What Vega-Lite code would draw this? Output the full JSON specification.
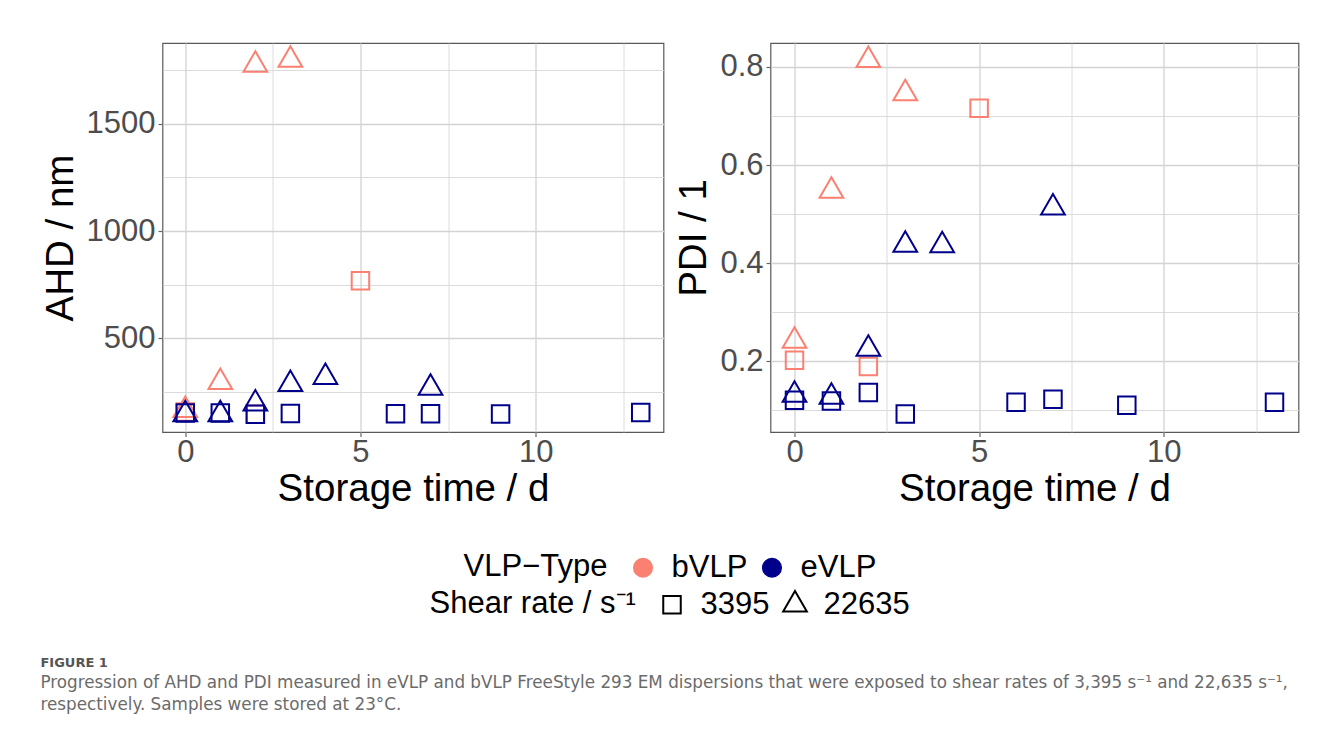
{
  "$schema": "https://vega.github.io/schema/vega-lite/v6.json",
  "padding": {"left": 39.5, "top": 41, "right": 30, "bottom": 10},
  "background": "white",
  "data": {
    "values": [
      {"type": "bVLP", "shear": "22635", "day": 0, "AHD": 165, "PDI": 0.241},
      {"type": "bVLP", "shear": "22635", "day": 1, "AHD": 296, "PDI": 0.547},
      {"type": "bVLP", "shear": "22635", "day": 2, "AHD": 1774, "PDI": 0.814},
      {"type": "bVLP", "shear": "22635", "day": 3, "AHD": 1797, "PDI": 0.746},
      {"type": "bVLP", "shear": "3395", "day": 0, "AHD": 157, "PDI": 0.202},
      {"type": "bVLP", "shear": "3395", "day": 2, "AHD": 146, "PDI": 0.189},
      {"type": "bVLP", "shear": "3395", "day": 5, "AHD": 768, "PDI": 0.716},
      {"type": "eVLP", "shear": "22635", "day": 0, "AHD": 146, "PDI": 0.131},
      {"type": "eVLP", "shear": "22635", "day": 1, "AHD": 146, "PDI": 0.127},
      {"type": "eVLP", "shear": "22635", "day": 2, "AHD": 196, "PDI": 0.225},
      {"type": "eVLP", "shear": "22635", "day": 3, "AHD": 287, "PDI": 0.437},
      {"type": "eVLP", "shear": "22635", "day": 4, "AHD": 319, "PDI": 0.436},
      {"type": "eVLP", "shear": "22635", "day": 7, "AHD": 269, "PDI": 0.513},
      {"type": "eVLP", "shear": "3395", "day": 0, "AHD": 152, "PDI": 0.120},
      {"type": "eVLP", "shear": "3395", "day": 1, "AHD": 152, "PDI": 0.1185},
      {"type": "eVLP", "shear": "3395", "day": 2, "AHD": 146, "PDI": 0.136},
      {"type": "eVLP", "shear": "3395", "day": 3, "AHD": 150, "PDI": 0.092},
      {"type": "eVLP", "shear": "3395", "day": 6, "AHD": 149, "PDI": 0.116},
      {"type": "eVLP", "shear": "3395", "day": 7, "AHD": 149, "PDI": 0.122},
      {"type": "eVLP", "shear": "3395", "day": 9, "AHD": 147, "PDI": 0.110},
      {"type": "eVLP", "shear": "3395", "day": 13, "AHD": 154.5, "PDI": 0.116}
    ]
  },
  "spacing": 9,
  "hconcat": [
    {
      "width": 501,
      "height": 389,
      "encoding": {
        "x": {
          "field": "day", "type": "quantitative",
          "scale": {"domain": [-0.65, 13.65], "nice": false, "zero": false},
          "axis": {
            "title": "Storage time / d",
            "values": [0, 2.5, 5, 7.5, 10, 12.5],
            "labelExpr": "datum.value % 5 === 0 ? datum.label : ''",
            "labelPadding": 0.5,
            "titlePadding": 3,
            "tickOpacity": {"condition": {"test": "datum.value % 5 === 0", "value": 1}, "value": 0},
            "gridWidth": {"condition": {"test": "datum.value % 5 === 0", "value": 1.3}, "value": 0.8}
          }
        },
        "y": {
          "field": "AHD", "type": "quantitative",
          "scale": {"domain": [63.7, 1875.8], "nice": false, "zero": false},
          "axis": {
            "title": "AHD / nm",
            "values": [250, 500, 750, 1000, 1250, 1500, 1750],
            "format": "d",
            "labelExpr": "datum.value % 500 === 0 ? datum.label : ''",
            "tickOpacity": {"condition": {"test": "datum.value % 500 === 0", "value": 1}, "value": 0},
            "gridWidth": {"condition": {"test": "datum.value % 500 === 0", "value": 1.3}, "value": 0.8}
          }
        }
      },
      "layer": [
        {
          "mark": {"type": "point", "filled": true, "size": 0, "opacity": 1},
          "encoding": {
            "color": {
              "field": "type", "type": "nominal",
              "scale": {"domain": ["bVLP", "eVLP"], "range": ["#FA8072", "#00008B"]},
              "legend": {"title": "VLP−Type", "symbolType": "circle", "symbolSize": 346, "symbolOpacity": 1}
            }
          }
        },
        {
          "mark": {"type": "point", "filled": false, "strokeWidth": 2, "size": 306, "opacity": 1},
          "encoding": {
            "color": {"field": "type", "type": "nominal", "legend": null},
            "shape": {
              "field": "shear", "type": "nominal",
              "scale": {"domain": ["3395", "22635"], "range": ["M-1,-1H1V1H-1Z", "M0,-1.563L1.354,0.782L-1.354,0.782Z"]},
              "legend": {"title": "Shear rate / s⁻¹", "symbolSize": 306, "symbolStrokeWidth": 2, "symbolStrokeColor": "black"}
            }
          }
        }
      ]
    },
    {
      "width": 528,
      "height": 389,
      "mark": {"type": "point", "filled": false, "strokeWidth": 2, "size": 306, "opacity": 1},
      "encoding": {
        "x": {
          "field": "day", "type": "quantitative",
          "scale": {"domain": [-0.65, 13.65], "nice": false, "zero": false},
          "axis": {
            "title": "Storage time / d",
            "values": [0, 2.5, 5, 7.5, 10, 12.5],
            "labelExpr": "datum.value % 5 === 0 ? datum.label : ''",
            "labelPadding": 0.5,
            "titlePadding": 3,
            "tickOpacity": {"condition": {"test": "datum.value % 5 === 0", "value": 1}, "value": 0},
            "gridWidth": {"condition": {"test": "datum.value % 5 === 0", "value": 1.3}, "value": 0.8}
          }
        },
        "y": {
          "field": "PDI", "type": "quantitative",
          "scale": {"domain": [0.0554, 0.8489], "nice": false, "zero": false},
          "axis": {
            "title": "PDI / 1",
            "values": [0.1, 0.2, 0.3, 0.4, 0.5, 0.6, 0.7, 0.8],
            "format": ".1f",
            "labelExpr": "round(datum.value * 10) % 2 === 0 ? datum.label : ''",
            "tickOpacity": {"condition": {"test": "round(datum.value * 10) % 2 === 0", "value": 1}, "value": 0},
            "gridWidth": {"condition": {"test": "round(datum.value * 10) % 2 === 0", "value": 1.3}, "value": 0.8}
          }
        },
        "color": {"field": "type", "type": "nominal", "legend": null},
        "shape": {"field": "shear", "type": "nominal", "legend": null}
      }
    }
  ],
  "title": {
    "text": "FIGURE 1",
    "subtitle": [
      "Progression of AHD and PDI measured in eVLP and bVLP FreeStyle 293 EM dispersions that were exposed to shear rates of 3,395 s⁻¹ and 22,635 s⁻¹,",
      "respectively. Samples were stored at 23°C."
    ],
    "orient": "bottom",
    "anchor": "start",
    "frame": "bounds",
    "font": "DejaVu Sans",
    "fontSize": 13,
    "fontWeight": "bold",
    "color": "#555555",
    "subtitleFont": "DejaVu Sans",
    "subtitleFontSize": 16.8,
    "subtitleColor": "#6B6B6B",
    "subtitleLineHeight": 22,
    "subtitlePadding": 5,
    "offset": 37
  },
  "config": {
    "view": {"stroke": "#595959", "strokeWidth": 1.2},
    "axis": {
      "labelFont": "Liberation Sans",
      "labelFontSize": 31,
      "labelColor": "#4D4D4D",
      "titleFont": "Liberation Sans",
      "titleFontSize": 38.5,
      "titleFontWeight": "normal",
      "titleColor": "black",
      "domain": false,
      "tickColor": "#666666",
      "tickSize": 4.5,
      "tickWidth": 1.2,
      "gridColor": "#D3D3D3",
      "labelOverlap": false,
      "labelFlush": false,
      "labelPadding": 3,
      "titlePadding": 6
    },
    "legend": {
      "orient": "bottom",
      "direction": "horizontal",
      "titleOrient": "left",
      "titleFont": "Liberation Sans",
      "titleFontSize": 31,
      "titleFontWeight": "normal",
      "titleColor": "black",
      "titlePadding": 20,
      "titleLimit": 500,
      "labelFont": "Liberation Sans",
      "labelFontSize": 31,
      "labelColor": "black",
      "labelOffset": 13,
      "columnPadding": 9,
      "offset": 43,
      "symbolBaseStrokeColor": "black",
      "layout": {"bottom": {"anchor": "middle", "direction": "vertical", "center": true, "margin": 6}}
    }
  }
}
